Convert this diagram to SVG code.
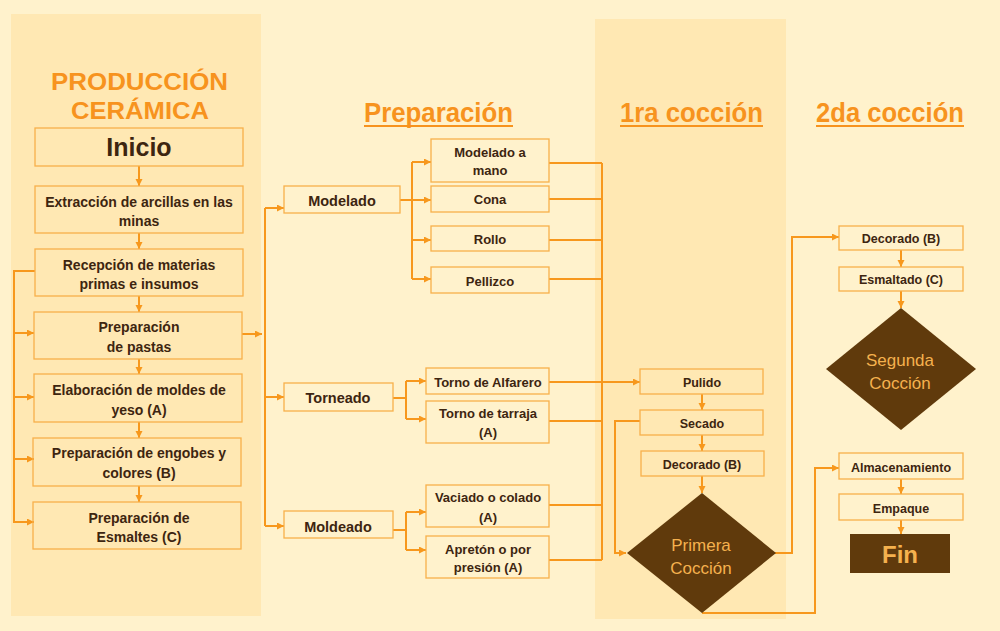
<svg xmlns="http://www.w3.org/2000/svg" width="1000" height="631" viewBox="0 0 1000 631">
<defs>
<marker id="ah" markerUnits="userSpaceOnUse" markerWidth="8" markerHeight="8" refX="7" refY="3.5" orient="auto">
<path d="M0,0 L7,3.5 L0,7 z" fill="#F7981D"/>
</marker>
<style>
.bx{fill:none;stroke:#F8B04B;stroke-width:1.3}
.t{font-family:"Liberation Sans",Arial,sans-serif;font-weight:bold;fill:#3D2510;text-anchor:middle}
.t14{font-size:14px}
.t13{font-size:13px}
.t12{font-size:12.5px}
.t15{font-size:14.5px}
.hd{font-family:"Liberation Sans",Arial,sans-serif;font-weight:bold;fill:#F7931E;text-anchor:middle}
.ul{stroke:#F7931E;stroke-width:2}
.dm{fill:#603A0C}
.dt{font-family:"Liberation Sans",Arial,sans-serif;font-size:17px;fill:#F5B14E;text-anchor:middle}
.c{fill:none;stroke:#F7981D;stroke-width:2}
.ca{fill:none;stroke:#F7981D;stroke-width:2;marker-end:url(#ah)}
</style>
</defs>
<rect x="0" y="0" width="1000" height="631" fill="#FFF2CC"/>
<rect x="11" y="14" width="250" height="602" fill="#FFE8B3"/>
<rect x="595" y="19" width="191" height="600" fill="#FFE8B3"/>

<g id="titles">
<text class="hd" x="139.5" y="90" font-size="24.5" textLength="177" lengthAdjust="spacingAndGlyphs">PRODUCCIÓN</text>
<text class="hd" x="140" y="119" font-size="24.5" textLength="138" lengthAdjust="spacingAndGlyphs">CERÁMICA</text>
<text class="hd" x="438.5" y="122" font-size="28" textLength="149" lengthAdjust="spacingAndGlyphs">Preparación</text>
<line class="ul" x1="364" y1="126" x2="513" y2="126"/>
<text class="hd" x="691.5" y="122" font-size="28" textLength="143" lengthAdjust="spacingAndGlyphs">1ra cocción</text>
<line class="ul" x1="620" y1="126" x2="763" y2="126"/>
<text class="hd" x="890" y="122" font-size="28" textLength="148" lengthAdjust="spacingAndGlyphs">2da cocción</text>
<line class="ul" x1="816" y1="126" x2="964" y2="126"/>
</g>

<g id="connectors">
<path class="ca" d="M139,166 V186"/>
<path class="ca" d="M139,233 V249"/>
<path class="ca" d="M139,296 V312"/>
<path class="ca" d="M139,359 V374"/>
<path class="ca" d="M139,422 V438"/>
<path class="ca" d="M139,486 V502"/>
<path class="ca" d="M35,271 H14 V522 H34"/>
<path class="ca" d="M14,333 H34"/>
<path class="ca" d="M14,397 H34"/>
<path class="ca" d="M14,459 H34"/>
<path class="ca" d="M242,334 H262"/>
<path class="c" d="M265,208 V526"/>
<path class="ca" d="M265,208 H284"/>
<path class="ca" d="M265,397 H284"/>
<path class="ca" d="M265,526 H284"/>
<path class="c" d="M400,200 H412 M412,162 V279"/>
<path class="ca" d="M412,162 H431"/>
<path class="ca" d="M412,200 H431"/>
<path class="ca" d="M412,240 H431"/>
<path class="ca" d="M412,279 H431"/>
<path class="c" d="M549,163 H602 M549,199 H602 M549,240 H602 M549,279 H602 M602,163 V560"/>
<path class="c" d="M393,398 H406 M406,381 V419"/>
<path class="ca" d="M406,381 H426"/>
<path class="ca" d="M406,419 H426"/>
<path class="ca" d="M549,382 H640"/>
<path class="c" d="M549,421 H602"/>
<path class="c" d="M393,530 H406 M406,512 V550"/>
<path class="ca" d="M406,512 H426"/>
<path class="ca" d="M406,550 H426"/>
<path class="c" d="M549,505 H602 M549,560 H602"/>
<path class="ca" d="M640,421 H615 V553 H626"/>
<path class="ca" d="M702,394 V410"/>
<path class="ca" d="M702,435 V451"/>
<path class="ca" d="M702,476 V493"/>
<path class="ca" d="M775,553 H792 V237 H839"/>
<path class="ca" d="M702,613 H815 V468 H839"/>
<path class="ca" d="M901,250 V267"/>
<path class="ca" d="M901,291 V308"/>
<path class="ca" d="M901,479 V494"/>
<path class="ca" d="M901,520 V534"/>
</g>

<g id="inicio"><rect class="bx" x="35" y="128" width="208" height="38"/><text class="t" x="139" y="156" font-size="25">Inicio</text></g>
<g id="extraccion"><rect class="bx" x="35" y="186" width="208" height="47"/><text class="t t14" x="139" y="207">Extracción de arcillas en las</text><text class="t t14" x="139" y="226">minas</text></g>
<g id="recepcion"><rect class="bx" x="35" y="249" width="208" height="47"/><text class="t t14" x="139" y="270">Recepción de materias</text><text class="t t14" x="139" y="289">primas e insumos</text></g>
<g id="pastas"><rect class="bx" x="34" y="312" width="208" height="47"/><text class="t t14" x="139" y="332">Preparación</text><text class="t t14" x="139" y="352">de pastas</text></g>
<g id="moldes"><rect class="bx" x="34" y="374" width="208" height="48"/><text class="t t14" x="139" y="395">Elaboración de moldes de</text><text class="t t14" x="139" y="415">yeso (A)</text></g>
<g id="engobes"><rect class="bx" x="33" y="438" width="208" height="48"/><text class="t t14" x="139" y="458">Preparación de engobes y</text><text class="t t14" x="139" y="478">colores (B)</text></g>
<g id="esmaltes"><rect class="bx" x="33" y="502" width="208" height="47"/><text class="t t14" x="139" y="523">Preparación de</text><text class="t t14" x="139" y="542">Esmaltes (C)</text></g>

<g id="modelado"><rect class="bx" x="284" y="186" width="116" height="27"/><text class="t t15" x="342" y="206">Modelado</text></g>
<g id="torneado"><rect class="bx" x="284" y="383" width="109" height="28"/><text class="t t15" x="338" y="403">Torneado</text></g>
<g id="moldeado"><rect class="bx" x="284" y="511" width="109" height="27"/><text class="t t15" x="338" y="532">Moldeado</text></g>

<g id="mano"><rect class="bx" x="431" y="139" width="118" height="43"/><text class="t t13" x="490" y="157">Modelado a</text><text class="t t13" x="490" y="175">mano</text></g>
<g id="cona"><rect class="bx" x="431" y="186" width="118" height="26"/><text class="t t13" x="490" y="204">Cona</text></g>
<g id="rollo"><rect class="bx" x="431" y="226" width="118" height="25"/><text class="t t13" x="490" y="244">Rollo</text></g>
<g id="pellizco"><rect class="bx" x="431" y="267" width="118" height="26"/><text class="t t13" x="490" y="286">Pellizco</text></g>
<g id="alfarero"><rect class="bx" x="426" y="368" width="123" height="26"/><text class="t t13" x="488" y="387">Torno de Alfarero</text></g>
<g id="tarraja"><rect class="bx" x="426" y="401" width="123" height="42"/><text class="t t13" x="488" y="418">Torno de tarraja</text><text class="t t13" x="488" y="437">(A)</text></g>
<g id="vaciado"><rect class="bx" x="426" y="485" width="123" height="42"/><text class="t t13" x="488" y="502">Vaciado o colado</text><text class="t t13" x="488" y="522">(A)</text></g>
<g id="apreton"><rect class="bx" x="426" y="536" width="123" height="42"/><text class="t t13" x="488" y="554">Apretón o por</text><text class="t t13" x="488" y="572">presión (A)</text></g>

<g id="pulido"><rect class="bx" x="640" y="369" width="123" height="25"/><text class="t t12" x="702" y="387">Pulido</text></g>
<g id="secado"><rect class="bx" x="640" y="410" width="123" height="25"/><text class="t t12" x="702" y="428">Secado</text></g>
<g id="decorado1"><rect class="bx" x="641" y="451" width="123" height="25"/><text class="t t12" x="702" y="469">Decorado (B)</text></g>
<g id="primera"><polygon class="dm" points="702,493 776,553 702,613 627,553"/><text class="dt" x="701" y="551">Primera</text><text class="dt" x="701" y="574">Cocción</text></g>

<g id="decorado2"><rect class="bx" x="839" y="226" width="124" height="24"/><text class="t t12" x="901" y="243">Decorado (B)</text></g>
<g id="esmaltado"><rect class="bx" x="839" y="267" width="124" height="24"/><text class="t t12" x="901" y="284">Esmaltado (C)</text></g>
<g id="segunda"><polygon class="dm" points="901,308 976,369 901,430 826,369"/><text class="dt" x="900" y="366">Segunda</text><text class="dt" x="900" y="389">Cocción</text></g>
<g id="almacenamiento"><rect class="bx" x="839" y="453" width="124" height="26"/><text class="t t12" x="901" y="472">Almacenamiento</text></g>
<g id="empaque"><rect class="bx" x="839" y="494" width="124" height="26"/><text class="t t12" x="901" y="513">Empaque</text></g>
<g id="fin"><rect class="dm" x="850" y="534" width="100" height="39"/><text class="t" x="900" y="563" font-size="24" style="fill:#F5B14E">Fin</text></g>
</svg>
